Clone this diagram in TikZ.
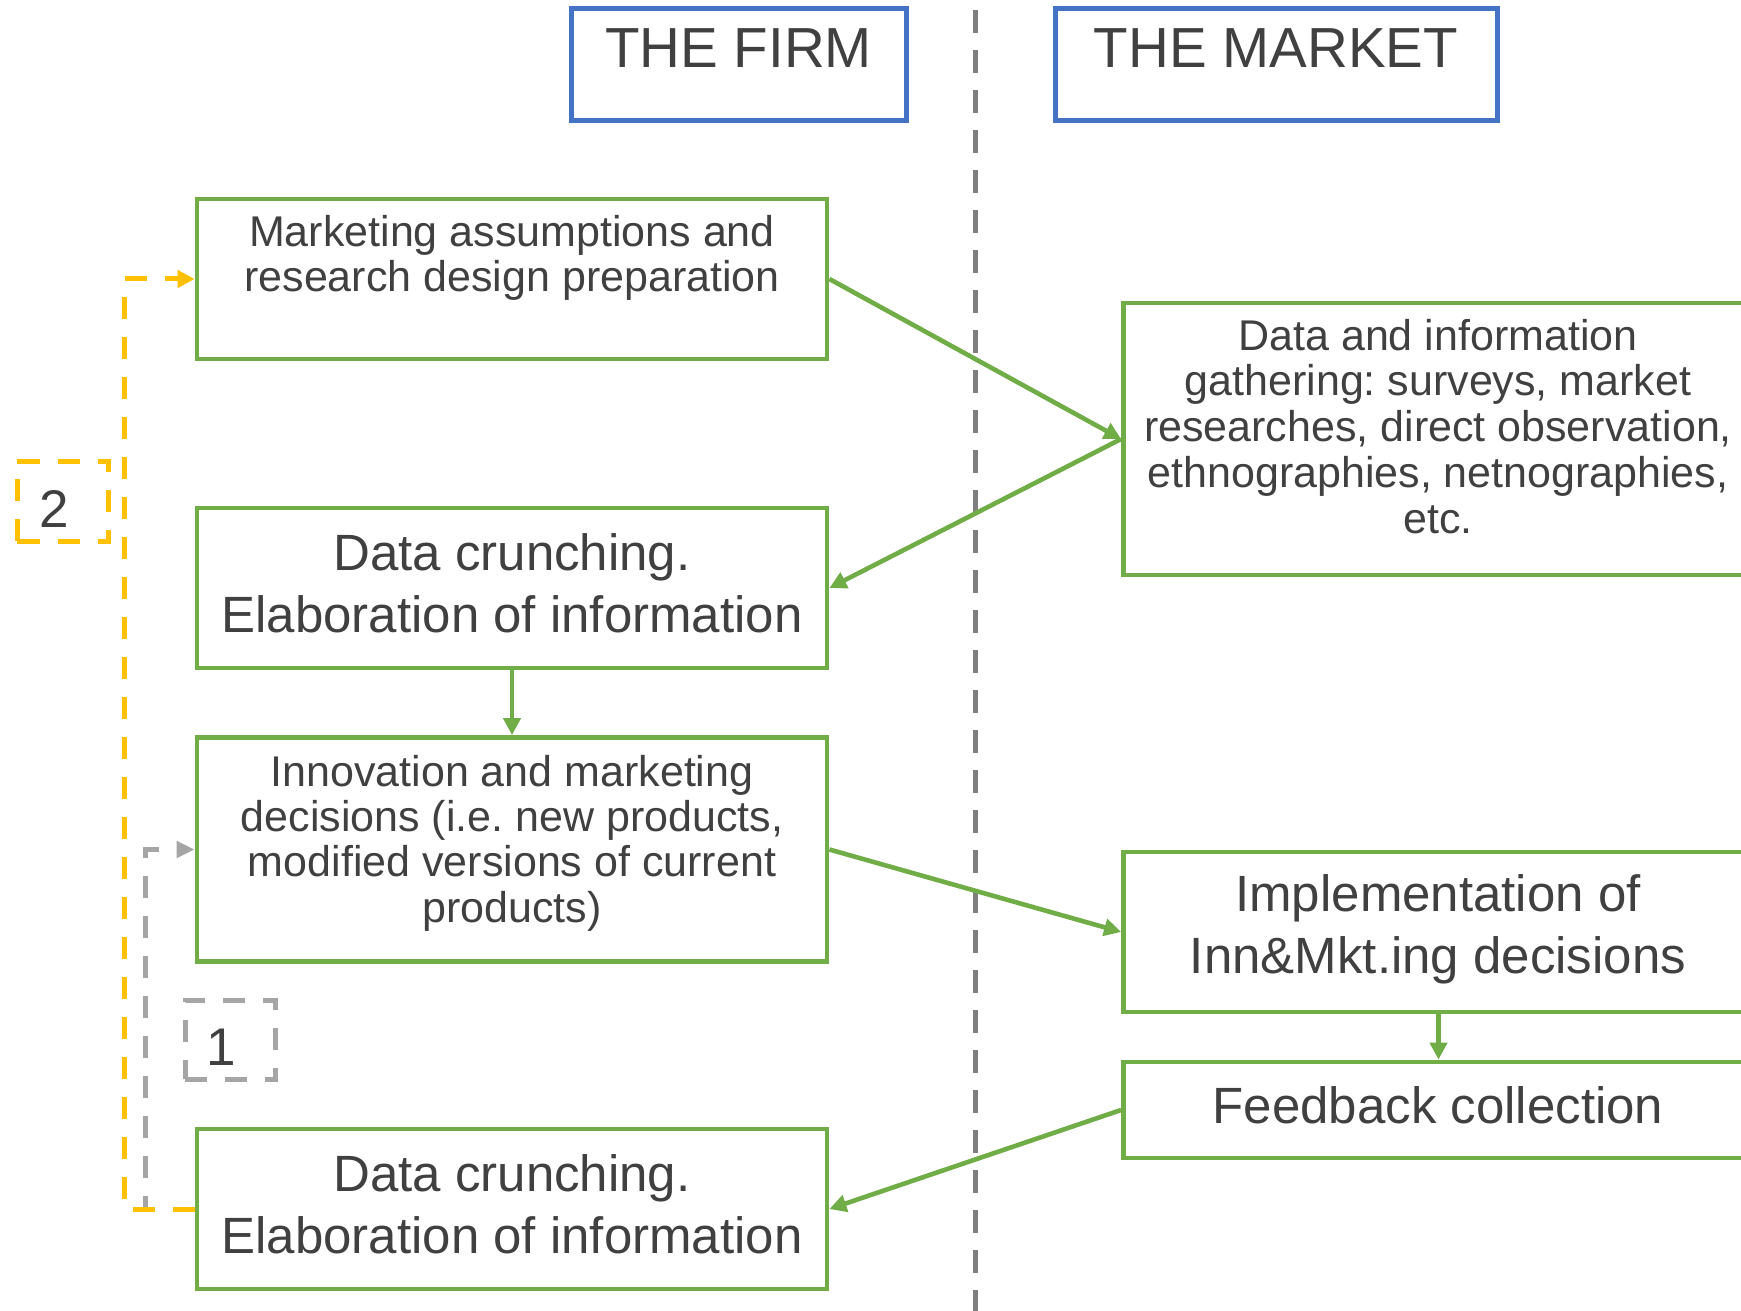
\documentclass[tikz,border=0pt]{standalone}
\usepackage{fontspec}
\setmainfont{Liberation Sans}
\usetikzlibrary{arrows.meta}
\definecolor{grn}{HTML}{70AD47}
\definecolor{blu}{HTML}{4472C4}
\definecolor{org}{HTML}{FFC000}
\definecolor{txt}{HTML}{404040}
\definecolor{midgray}{HTML}{7F7F7F}
\definecolor{ltgray}{HTML}{A5A5A5}
\frenchspacing
\begin{document}
\begin{tikzpicture}[x=1bp,y=-1bp,
  gbox/.style={draw=grn, line width=4.8bp, rectangle, inner sep=0pt, minimum width=630bp},
  tbox/.style={draw=blu, line width=5bp, rectangle, inner sep=0pt, minimum height=112bp},
  lbl/.style={text=txt, align=center, anchor=base, inner sep=0pt},
  fsmall/.style={font=\fontsize{43bp}{45.7bp}\selectfont},
  fbig/.style={font=\fontsize{51bp}{62bp}\selectfont},
  ftitle/.style={font=\fontsize{56.5bp}{62bp}\selectfont},
  fdigit/.style={font=\fontsize{53bp}{60bp}\selectfont},
  garrow/.style={draw=grn, line width=4.6bp, -{Triangle[length=17bp,width=17bp]}},
  dashpat/.style={dash pattern=on 22bp off 18bp},
  lblbox/.style={rectangle, inner sep=0pt, line width=5bp, dashpat},
]
\path[use as bounding box, clip] (0,0) rectangle (1741,1311);
\fill[white] (0,0) rectangle (1741,1311);

% divider
\coordinate (ltop) at (975,10);
\coordinate (lbot) at (975,1311);
\draw[midgray, line width=5bp, dash pattern=on 22.7bp off 17.3bp] (ltop) -- (lbot);

% titles
\node[tbox, minimum width=335bp] (firm) at (738.5,65) {};
\node[tbox, minimum width=442bp] (market) at (1276,65) {};
\node[lbl, ftitle] (tfirm) at (738.5,68) {THE FIRM};
\node[lbl, ftitle] (tmarket) at (1276,68) {THE MARKET};

% firm boxes
\node[gbox, minimum height=160bp] (b1) at (512,279) {};
\node[gbox, minimum height=160bp] (b2) at (512,588) {};
\node[gbox, minimum height=224bp] (b3) at (512,849.5) {};
\node[gbox, minimum height=160bp] (b4) at (512,1209) {};

% market boxes
\node[gbox, minimum height=272bp] (bA) at (1438.5,439) {};
\node[gbox, minimum height=160bp] (bimpl) at (1438.5,932) {};
\node[gbox, minimum height=96bp] (bfb) at (1438.5,1110) {};

% texts (anchor = baseline of last line)
\node[lbl, fsmall] (t1) at (512,292) {Marketing assumptions and\\research design preparation};
\node[lbl, fbig] (t2) at (512,632) {Data crunching.\\Elaboration of information};
\node[lbl, fsmall, font=\fontsize{43bp}{45.3bp}\selectfont] (t3) at (512,922) {Innovation and marketing\\decisions (i.e. new products,\\modified versions of current\\products)};
\node[lbl, fbig] (t4) at (512,1253) {Data crunching.\\Elaboration of information};
\node[lbl, fsmall, font=\fontsize{43bp}{45.75bp}\selectfont] (tA) at (1438,533) {Data and information\\gathering: surveys, market\\researches, direct observation,\\ethnographies, netnographies,\\etc.};
\node[lbl, fbig, font=\fontsize{51bp}{61.5bp}\selectfont] (timpl) at (1438,973) {Implementation of\\Inn\&Mkt.ing decisions};
\node[lbl, fbig] (tfb) at (1438,1123) {Feedback collection};

% label boxes
\node[lblbox, draw=org, minimum width=91bp, minimum height=80bp] (l2) at (63,501) {};
\node[lbl, fdigit] (t2lbl) at (54,527) {2};
\node[lblbox, draw=ltgray, minimum width=90.5bp, minimum height=79bp] (l1) at (230.25,1039.5) {};
\node[lbl, fdigit] (t1lbl) at (221,1065) {1};

% green connectors
\draw[garrow] (b1.east) -- (bA.west);
\draw[garrow] (bA.west) -- (b2.east);
\draw[garrow] (b2.south) -- (b3.north);
\draw[garrow] (b3.east) -- (bimpl.west);
\draw[garrow] (bimpl.south) -- (bfb.north);
\draw[garrow] (bfb.west) -- (b4.east);

% feedback loops
\draw[ltgray, line width=5bp, dashpat, -{Triangle[length=18bp,width=16bp]}] (b4.west) -- ++(-49,0) |- (b3.west);
\draw[org, line width=5bp, dashpat, -{Triangle[length=17bp,width=17bp]}] (b4.west) -- ++(-70,0) |- (b1.west);
\end{tikzpicture}
\end{document}
